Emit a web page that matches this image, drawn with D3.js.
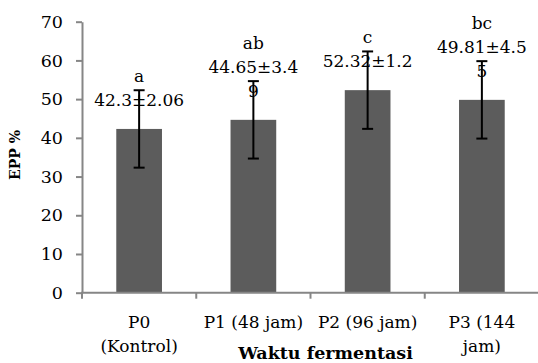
<!DOCTYPE html>
<html><head><meta charset="utf-8">
<script src="https://cdn.jsdelivr.net/npm/d3@7"></script>
<style>body{margin:0;background:#fff}svg{display:block}</style>
</head><body>
<svg id="c" width="538" height="363"></svg>
<script>
const categories = ["P0", "P1", "P2", "P3"];
const categoryLines = [["P0", "(Kontrol)"], ["P1 (48 jam)"], ["P2 (96 jam)"], ["P3 (144", "jam)"]];
const values = [42.3, 44.65, 52.32, 49.81];
const errors = [10, 10, 10, 10];
const labelLines = [["a", "42.3±2.06"], ["ab", "44.65±3.4", "9"], ["c", "52.32±1.2"], ["bc", "49.81±4.5", "5"]];
const yTicks = [0, 10, 20, 30, 40, 50, 60, 70];
const xTitle = "Waktu fermentasi";
const yTitle = "EPP %";

const svg = d3.select("#c");
const font = "'DejaVu Serif', serif";
const pLeft = 82, pRight = 539, pTop = 21.7, pBottom = 292.7;
const x = d3.scaleBand().domain(categories).range([pLeft, pRight]).paddingInner(0.6).paddingOuter(0.3);
const y = d3.scaleLinear().domain([0, 70]).range([pBottom, pTop]);
const axisColor = "#868686";

// bars
svg.selectAll("rect.bar").data(categories).join("rect")
  .attr("x", d => x(d)).attr("width", x.bandwidth())
  .attr("y", (d, i) => y(values[i])).attr("height", (d, i) => y(0) - y(values[i]))
  .attr("fill", "#5c5c5c");

// y axis
const ya = svg.append("g").attr("transform", `translate(${pLeft},0)`)
  .call(d3.axisLeft(y).tickValues(yTicks).tickSize(6).tickPadding(13).tickSizeOuter(0));
ya.select(".domain").attr("stroke", axisColor).attr("stroke-width", 2);
ya.selectAll(".tick line").attr("stroke", axisColor).attr("stroke-width", 2);
ya.selectAll(".tick text").attr("font-family", font).attr("font-size", 17.5).attr("fill", "#000");

// x axis
const step = x.step();
const bounds = d3.range(categories.length + 1).map(i => pLeft + i * step);
const xa = svg.append("g");
xa.append("line").attr("x1", pLeft - 1).attr("x2", pRight).attr("y1", y(0)).attr("y2", y(0))
  .attr("stroke", axisColor).attr("stroke-width", 2);
xa.selectAll("line.t").data(bounds).join("line").attr("class", "t")
  .attr("x1", d => d).attr("x2", d => d).attr("y1", y(0)).attr("y2", y(0) + 6)
  .attr("stroke", axisColor).attr("stroke-width", 2);
categories.forEach((c, i) => {
  const cx = x(c) + x.bandwidth() / 2;
  const t = svg.append("text").attr("font-family", font).attr("font-size", 17)
    .attr("text-anchor", "middle").attr("fill", "#000");
  categoryLines[i].forEach((ln, j) => {
    t.append("tspan").attr("x", cx).attr("y", 328 + j * 23.5).text(ln);
  });
});

// error bars
categories.forEach((c, i) => {
  const cx = x(c) + x.bandwidth() / 2;
  const g = svg.append("g").attr("stroke", "#000").attr("stroke-width", 2);
  const hi = y(values[i] + errors[i]), lo = y(values[i] - errors[i]);
  g.append("line").attr("x1", cx).attr("x2", cx).attr("y1", hi).attr("y2", lo);
  g.append("line").attr("x1", cx - 5.5).attr("x2", cx + 5.5).attr("y1", hi).attr("y2", hi);
  g.append("line").attr("x1", cx - 5.5).attr("x2", cx + 5.5).attr("y1", lo).attr("y2", lo);
});

// data labels
categories.forEach((c, i) => {
  const cx = x(c) + x.bandwidth() / 2;
  const lines = labelLines[i];
  const baseLast = y(values[i]) - 23.3;
  const t = svg.append("text").attr("font-family", font).attr("font-size", 17)
    .attr("text-anchor", "middle").attr("fill", "#000");
  lines.forEach((ln, j) => {
    t.append("tspan").attr("x", cx).attr("y", baseLast - (lines.length - 1 - j) * 24).text(ln);
  });
});

// titles
svg.append("text").attr("x", 325.5).attr("y", 359).attr("text-anchor", "middle")
  .attr("font-family", font).attr("font-weight", "bold").attr("font-size", 17.5).text(xTitle);
svg.append("text").attr("transform", "translate(20,155) rotate(-90)").attr("text-anchor", "middle")
  .attr("font-family", font).attr("font-weight", "bold").attr("font-size", 14).text(yTitle);
</script>
</body></html>
